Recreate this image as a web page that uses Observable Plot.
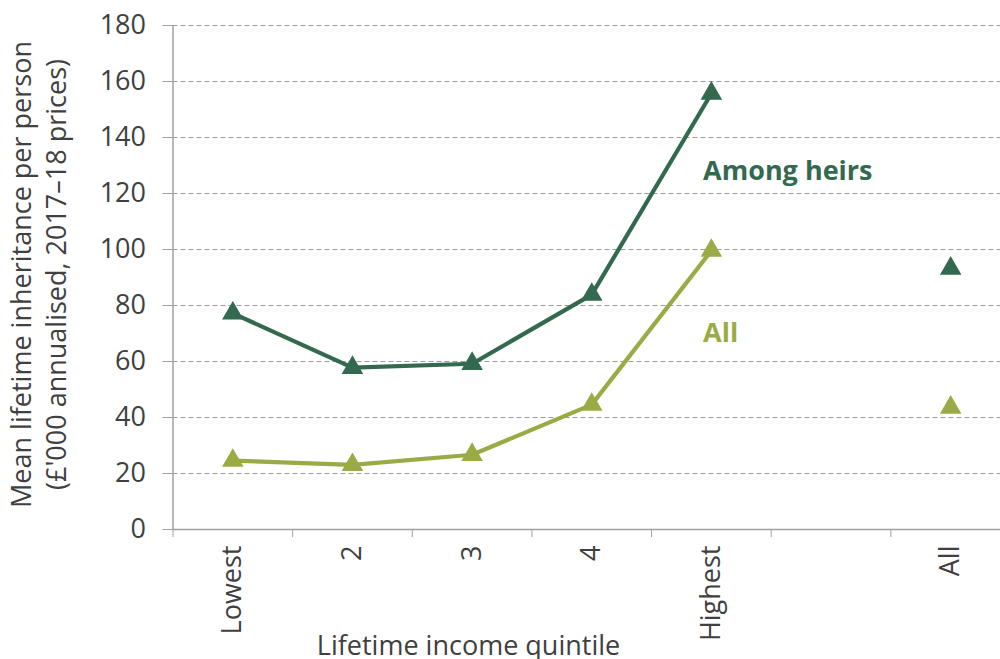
<!DOCTYPE html>
<html>
<head>
<meta charset="utf-8">
<script src="https://cdn.jsdelivr.net/npm/d3@7"></script>
<script src="https://cdn.jsdelivr.net/npm/@observablehq/plot@0.6"></script>
<style>
  html, body { margin: 0; padding: 0; background: #fff; overflow: hidden; }
  svg { font-family: "Open Sans", sans-serif; }
</style>
</head>
<body>
<div id="chart"></div>
<script>
const categories = ["Lowest", "2", "3", "4", "Highest", "", "All"];
const amongHeirs = [77.2, 57.8, 59.2, 83.9, 155.7, null, 93.2];
const allPeople  = [24.6, 23.1, 26.7, 44.6, 99.6, null, 43.6];
const yTicks = [0, 20, 40, 60, 80, 100, 120, 140, 160, 180];
const seriesLabels = [
  {name: "Among heirs", x: 3.93, y: 128, key: "heirs"},
  {name: "All", x: 3.93, y: 70, key: "all"}
];
const yTitle = "Mean lifetime inheritance per person\n(£'000 annualised, 2017–18 prices)";
const xTitle = "Lifetime income quintile";
const colors = {heirs: "#33694f", all: "#9aab45"};

const rows = [];
categories.forEach((c, i) => {
  if (amongHeirs[i] != null) rows.push({i, cat: c, key: "heirs", v: amongHeirs[i]});
  if (allPeople[i] != null) rows.push({i, cat: c, key: "all", v: allPeople[i]});
});
const lineRows = rows.filter(d => d.i <= 4);
const boundaries = d3.range(-0.5, categories.length - 0.5, 1);
const centers = d3.range(0, categories.length).filter(i => categories[i] !== "");

const chart = Plot.plot({
  width: 1000,
  height: 659,
  marginLeft: 172.5,
  marginRight: 0,
  marginTop: 25,
  marginBottom: 130,
  style: {fontFamily: "Open Sans, sans-serif", fontSize: "27px", color: "#404040", background: "#fff"},
  x: {domain: [-0.5, 6.5], range: [172.5, 1010]},
  y: {domain: [0, 180], range: [529, 25]},
  marks: [
    Plot.ruleY(yTicks.filter(t => t > 0), {stroke: "#9a9a9a", strokeDasharray: "5,3", strokeWidth: 1.2}),
    Plot.ruleY([0], {stroke: "#a0a0a0", strokeWidth: 1.5}),
    Plot.ruleX([-0.5], {stroke: "#a0a0a0", strokeWidth: 1.5}),
    Plot.axisY({ticks: yTicks, tickSize: 10, tickPadding: 17, fontSize: 27, stroke: "#a0a0a0", label: null}),
    Plot.text([yTitle], {frameAnchor: "left", dx: -136, dy: -3, rotate: -90, fontSize: 27, lineHeight: 1.3, fill: "#404040", textAnchor: "middle", lineAnchor: "middle"}),
    Plot.axisX({ticks: boundaries, tickSize: 8, tickFormat: () => "", stroke: "#a0a0a0", label: null}),
    Plot.axisX({ticks: centers, tickSize: 0, tickPadding: 16, tickRotate: -90, fontSize: 27,
      tickFormat: i => categories[i], label: null}),
    Plot.text([xTitle], {frameAnchor: "bottom", x: 1.97, dy: 117, fontSize: 27, fill: "#404040", lineAnchor: "middle"}),
    Plot.line(lineRows, {x: "i", y: "v", z: "key", stroke: d => colors[d.key], strokeWidth: 4.2}),
    Plot.dot(rows, {x: "i", y: "v", symbol: "triangle", r: 8, fill: d => colors[d.key], stroke: "none"}),
    Plot.text(seriesLabels, {x: "x", y: "y", text: "name", fill: d => colors[d.key], textAnchor: "start", fontSize: 27, fontWeight: "bold"})
  ]
});
document.getElementById("chart").appendChild(chart);
</script>
</body>
</html>
